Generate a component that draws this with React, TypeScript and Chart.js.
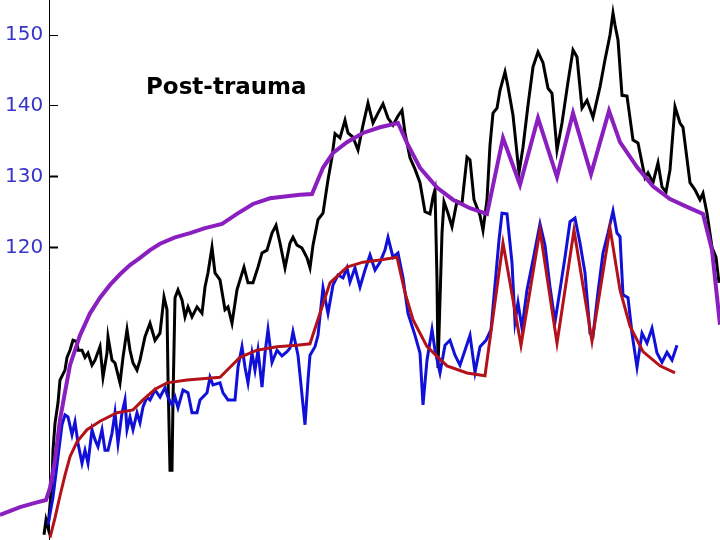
import { useEffect, useRef } from "react";
import { Chart, registerables } from "chart.js";
Chart.register(...registerables);

const yTickValues = [120, 130, 140, 150];
const titleText = "Post-trauma";

const purpleT = [0, 20, 35, 46, 50, 55, 60, 65, 70, 80, 90, 100, 110, 120, 130, 140, 150, 160, 175, 190, 205, 222, 237, 253, 270, 287, 300, 312, 323, 333, 347, 363, 380, 398, 408, 420, 437, 453, 470, 487, 503, 520, 538, 557, 573, 591, 609, 620, 637, 653, 670, 687, 703, 712, 720];
const purpleV = [82.4, 83.5, 84.1, 84.5, 86.2, 90.1, 95.8, 99.7, 103.5, 107.7, 110.8, 113.0, 114.8, 116.3, 117.6, 118.6, 119.7, 120.6, 121.5, 122.1, 122.8, 123.4, 124.8, 126.2, 127.0, 127.3, 127.5, 127.6, 131.3, 133.4, 134.9, 136.2, 137.0, 137.6, 134.5, 131.3, 128.5, 126.8, 125.6, 124.8, 135.5, 128.9, 138.3, 130.0, 139.0, 130.4, 139.3, 134.9, 131.4, 128.7, 126.9, 125.8, 124.8, 119.7, 109.2];

const redT = [50, 55, 60, 65, 70, 77, 87, 100, 117, 133, 143, 155, 167, 187, 220, 230, 240, 257, 277, 297, 310, 320, 330, 347, 363, 380, 397, 405, 413, 427, 447, 467, 485, 503, 521, 540, 557, 574, 592, 610, 620, 630, 643, 660, 675];
const redV = [79.2, 82.0, 85.1, 88.0, 90.6, 92.7, 94.4, 95.6, 96.8, 97.2, 98.6, 100.1, 101.0, 101.4, 101.8, 103.2, 104.6, 105.6, 106.1, 106.3, 106.5, 110.8, 115.1, 117.3, 118.0, 118.3, 118.7, 113.7, 109.9, 106.1, 103.4, 102.4, 102.0, 120.7, 106.3, 122.5, 106.6, 122.5, 106.9, 122.8, 114.1, 109.0, 105.4, 103.4, 102.4];

const blueT = [48, 53, 58, 62, 65, 68, 72, 75, 78, 82, 85, 88, 92, 95, 98, 102, 105, 108, 112, 115, 118, 122, 125, 127, 130, 133, 137, 140, 143, 147, 150, 155, 160, 165, 168, 172, 175, 178, 183, 188, 192, 197, 200, 207, 210, 213, 220, 223, 228, 235, 238, 242, 245, 248, 252, 255, 258, 262, 265, 268, 272, 277, 282, 287, 290, 293, 298, 302, 305, 308, 310, 315, 318, 323, 328, 333, 338, 343, 347, 350, 355, 360, 365, 370, 375, 380, 385, 388, 393, 398, 403, 408, 415, 420, 423, 427, 432, 435, 440, 445, 450, 455, 460, 465, 470, 475, 480, 486, 491, 495, 499, 502, 507, 512, 515, 518, 522, 527, 533, 540, 545, 550, 555, 560, 565, 570, 575, 580, 585, 590, 593, 598, 603, 608, 613, 617, 620, 623, 628, 632, 637, 642, 647, 652, 657, 662, 667, 672, 677];
const blueV = [81.0, 84.9, 90.6, 95.1, 96.5, 96.2, 93.7, 95.5, 92.5, 89.7, 91.5, 89.7, 94.4, 93.0, 92.0, 94.4, 91.5, 91.5, 93.9, 96.8, 92.5, 96.8, 98.6, 94.4, 96.2, 94.4, 96.8, 95.4, 97.6, 99.0, 98.6, 100.0, 99.0, 100.3, 99.0, 97.9, 99.0, 97.5, 100.0, 99.6, 96.8, 96.8, 98.6, 99.6, 101.8, 100.7, 101.0, 99.6, 98.6, 98.6, 103.2, 106.1, 103.2, 101.0, 105.2, 102.8, 105.6, 100.4, 105.2, 108.5, 103.9, 105.6, 104.8, 105.4, 105.9, 108.2, 104.9, 99.3, 95.1, 101.4, 104.9, 106.1, 107.7, 114.4, 110.8, 114.8, 116.2, 115.8, 117.2, 115.2, 117.2, 114.5, 116.9, 119.0, 116.9, 118.0, 119.7, 121.5, 118.7, 119.3, 115.8, 110.8, 107.7, 105.2, 97.9, 104.2, 108.5, 105.6, 102.4, 106.3, 107.0, 104.9, 103.5, 105.6, 107.7, 102.5, 106.1, 107.0, 108.5, 114.8, 121.1, 124.9, 124.8, 117.9, 109.6, 112.3, 108.7, 114.1, 118.3, 123.4, 120.4, 114.5, 109.6, 114.1, 118.7, 123.7, 124.2, 120.7, 116.5, 108.0, 107.6, 113.8, 119.3, 122.1, 125.2, 122.1, 121.6, 113.4, 113.0, 108.0, 103.2, 108.0, 106.6, 108.7, 105.2, 103.9, 105.3, 104.2, 106.3];

const blackT = [44, 46, 48, 50, 52, 53, 55, 58, 60, 65, 67, 70, 73, 77, 78, 82, 85, 88, 92, 95, 100, 103, 107, 108, 112, 115, 120, 123, 127, 130, 133, 137, 140, 145, 150, 155, 160, 164, 167, 168, 170, 172, 173, 175, 178, 182, 185, 188, 192, 197, 202, 205, 208, 212, 215, 220, 225, 228, 232, 237, 240, 244, 248, 253, 258, 262, 267, 272, 276, 280, 285, 290, 293, 297, 302, 307, 310, 313, 318, 323, 328, 332, 335, 340, 345, 348, 353, 358, 363, 368, 373, 378, 383, 388, 393, 398, 402, 405, 410, 415, 420, 425, 430, 433, 435, 437, 438, 440, 442, 444, 448, 452, 457, 462, 467, 470, 474, 480, 483, 487, 490, 493, 497, 500, 505, 508, 513, 519, 523, 528, 533, 538, 543, 548, 552, 557, 562, 568, 573, 577, 582, 587, 593, 600, 605, 610, 613, 615, 618, 622, 627, 633, 638, 645, 648, 653, 658, 662, 666, 670, 675, 680, 683, 690, 695, 700, 703, 707, 712, 716, 719];
const blackV = [79.6, 81.7, 80.6, 83.8, 86.9, 91.5, 95.3, 98.2, 101.4, 102.8, 104.6, 105.6, 107.0, 106.8, 105.6, 105.6, 104.6, 105.2, 103.5, 104.2, 106.1, 101.8, 105.2, 107.5, 104.2, 103.8, 101.0, 104.6, 108.5, 105.6, 103.8, 102.8, 104.2, 107.5, 109.4, 107.0, 108.0, 113.1, 111.3, 101.8, 88.7, 88.7, 98.6, 113.0, 114.1, 112.7, 110.3, 111.7, 110.3, 111.7, 110.8, 114.5, 116.5, 120.1, 116.5, 115.5, 111.3, 111.7, 109.4, 114.1, 115.5, 117.3, 115.1, 115.1, 117.3, 119.3, 119.7, 122.1, 123.2, 120.7, 117.2, 120.7, 121.5, 120.4, 120.0, 118.6, 117.2, 120.4, 124.0, 124.9, 129.6, 132.8, 136.1, 135.5, 138.0, 136.2, 135.6, 133.8, 137.3, 140.4, 137.6, 139.0, 140.3, 138.3, 137.3, 138.6, 139.4, 136.2, 132.7, 131.1, 129.2, 125.1, 124.8, 127.2, 128.2, 115.5, 103.1, 112.7, 122.1, 126.5, 124.9, 123.0, 126.6, 126.3, 132.8, 132.4, 126.8, 124.6, 122.5, 126.8, 134.5, 139.0, 139.7, 142.2, 144.8, 142.7, 138.7, 130.6, 134.2, 140.1, 145.5, 147.6, 146.1, 142.5, 141.8, 133.8, 137.6, 143.4, 147.9, 146.9, 139.7, 140.8, 138.4, 142.7, 146.5, 150.0, 153.1, 151.4, 149.3, 141.5, 141.4, 135.2, 134.8, 129.9, 130.6, 129.2, 132.0, 128.6, 127.9, 131.0, 139.9, 137.6, 137.0, 129.2, 128.2, 126.8, 127.7, 124.9, 120.1, 118.7, 115.1];

const BLACK = "#000000";
const BLUE = "#1010d8";
const RED = "#b3121a";
const PURPLE = "#8a1ebe";
const TICK_COLOR = "#3535c8";

function pts(t: number[], v: number[]) {
  return t.map((x, i) => ({ x, y: v[i] }));
}

export default function App() {
  const ref = useRef<HTMLCanvasElement>(null);
  useEffect(() => {
    const titlePlugin = {
      id: "postTitle",
      afterDatasetsDraw(chart: any) {
        const { ctx } = chart;
        ctx.save();
        ctx.font = 'bold 23px "DejaVu Sans"';
        ctx.fillStyle = "#000";
        ctx.textAlign = "left";
        ctx.textBaseline = "alphabetic";
        ctx.fillText(titleText, 146, 94);
        ctx.restore();
      },
    };
    const common = { pointRadius: 0, tension: 0, fill: false, clip: false as any };
    const chart = new Chart(ref.current as HTMLCanvasElement, {
      type: "line",
      data: {
        datasets: [
          { label: "red", data: pts(redT, redV), borderColor: RED, borderWidth: 3, ...common },
          { label: "purple", data: pts(purpleT, purpleV), borderColor: PURPLE, borderWidth: 4, ...common },
          { label: "blue", data: pts(blueT, blueV), borderColor: BLUE, borderWidth: 3, ...common },
          { label: "black", data: pts(blackT, blackV), borderColor: BLACK, borderWidth: 3, ...common },
        ],
      },
      options: {
        animation: false,
        responsive: false,
        layout: { padding: 0 },
        plugins: { legend: { display: false }, tooltip: { enabled: false }, title: { display: false } },
        scales: {
          x: { type: "linear", min: 0, max: 720, display: false },
          y: {
            type: "linear",
            min: 78.87,
            max: 154.93,
            position: { x: 49.5 } as any,
            afterBuildTicks: (s: any) => {
              s.ticks = yTickValues.map((v) => ({ value: v }));
            },
            afterFit: (s: any) => {
              s.paddingTop = 0;
              s.paddingBottom = 0;
            },
            border: { display: true, color: "#000", width: 1 },
            grid: {
              drawOnChartArea: false,
              drawTicks: true,
              tickLength: -9,
              tickColor: "#000",
              tickWidth: (c: any) => (c.tick && c.tick.value <= 130 ? 2 : 1),
            },
            ticks: {
              color: TICK_COLOR,
              font: { family: "DejaVu Sans", size: 20 },
              padding: 15,
              autoSkip: false,
              callback: (v: any) => `${v} `,
            },
          },
        },
      },
      plugins: [titlePlugin],
    });
    return () => chart.destroy();
  }, []);
  return (
    <div style={{ position: "fixed", left: 0, top: 0, width: 720, height: 540, background: "#fff" }}>
      <canvas ref={ref} width={720} height={540} style={{ display: "block" }} />
    </div>
  );
}
